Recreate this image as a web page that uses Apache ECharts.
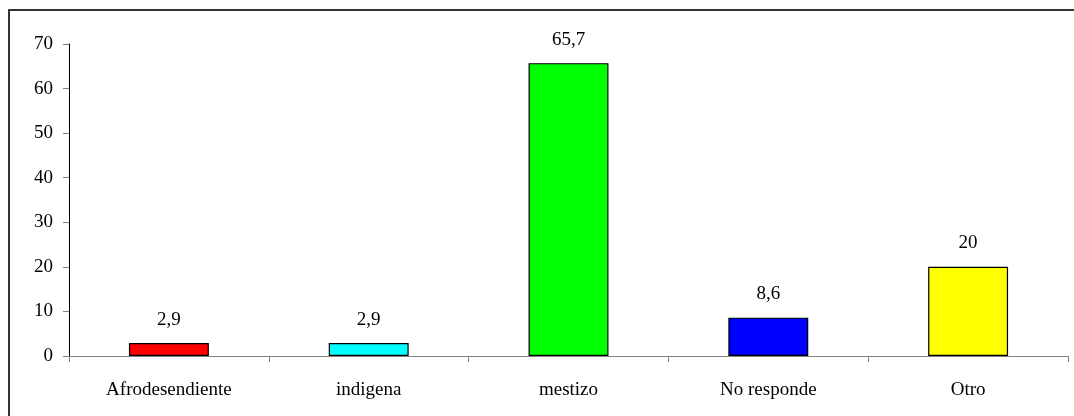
<!DOCTYPE html>
<html>
<head>
<meta charset="utf-8">
<script src="https://cdn.jsdelivr.net/npm/echarts@6/dist/echarts.min.js"></script>
<style>
  html, body { margin: 0; padding: 0; background: #fff; }
  #chart { width: 1074px; height: 416px; }
</style>
</head>
<body>
<div id="chart"></div>
<script>
const categories = ['Afrodesendiente', 'indigena', 'mestizo', 'No responde', 'Otro']
const values = [2.9, 2.9, 65.7, 8.6, 20]
const barColors = ['#ff0000', '#00ffff', '#00ff00', '#0000ff', '#ffff00']

const chart = echarts.init(document.getElementById('chart'))
const font = 'Liberation Serif, Times New Roman, serif'

chart.setOption({
  animation: false,
  textStyle: { fontFamily: font },
  graphic: [{
    type: 'rect',
    shape: { x: 9, y: 10, width: 1100, height: 440 },
    style: { fill: 'none', stroke: '#333', lineWidth: 2 },
    silent: true
  }],
  grid: {
    left: 69,
    right: 6,
    top: 44,
    bottom: 60
  },
  xAxis: {
    type: 'category',
    data: categories,
    axisLine: { lineStyle: { color: '#808080', width: 1 } },
    axisTick: { show: true, length: 6, lineStyle: { color: '#808080' } },
    axisLabel: { color: '#000', fontSize: 19, fontFamily: font, margin: 25 }
  },
  yAxis: {
    type: 'value',
    min: 0,
    max: 70,
    interval: 10,
    splitLine: { show: false },
    axisLine: { show: true, lineStyle: { color: '#000', width: 1 } },
    axisTick: { show: true, length: 6, lineStyle: { color: '#808080' } },
    axisLabel: { color: '#000', fontSize: 19, fontFamily: font, margin: 16 }
  },
  series: [{
    type: 'bar',
    barWidth: '40%',
    data: values.map((v, i) => ({
      value: v,
      itemStyle: { color: barColors[i] }
    })),
    itemStyle: { borderColor: '#000', borderWidth: 1.2 },
    label: {
      show: true,
      position: 'top',
      distance: 14,
      color: '#000',
      fontSize: 19,
      fontFamily: font,
      formatter: p => String(p.value).replace('.', ',')
    }
  }]
})
</script>
</body>
</html>
